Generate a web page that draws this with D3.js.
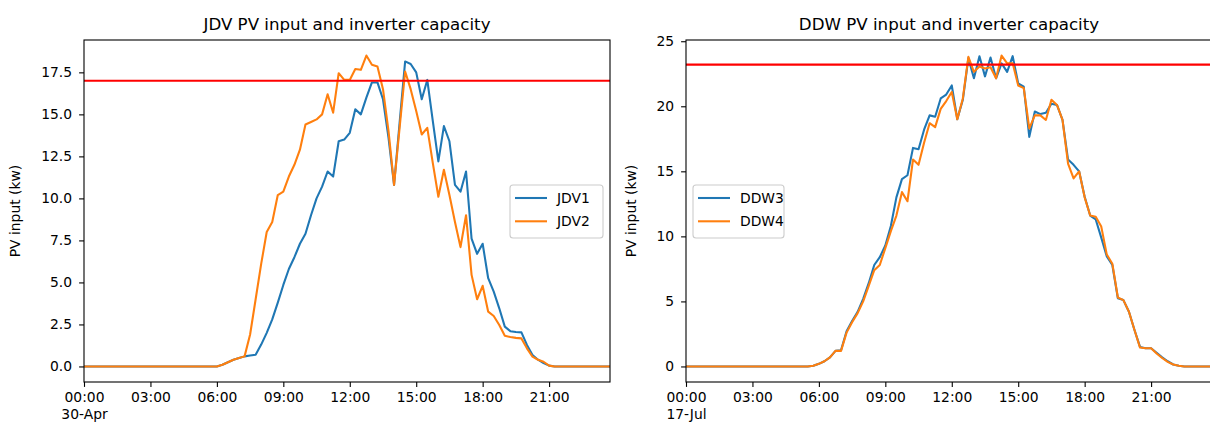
<!DOCTYPE html>
<html><head><meta charset="utf-8">
<script src="https://cdn.jsdelivr.net/npm/d3@7"></script>
<style>
body{margin:0;background:#fff;}
svg{display:block;}
text{font-family:"DejaVu Sans",sans-serif;fill:#000;}
</style>
</head><body>
<svg id="chart" width="1210" height="428"></svg>
<script>
// ---- data: 15-minute samples, 00:00 .. 23:45 (96 points) ----
const jdv1 = [0,0,0,0,0,0,0,0,0,0,0,0,0,0,0,0,0,0,0,0,0,0,0,0,0,
  0.1,0.25,0.4,0.5,0.6,0.65,0.7,1.3,2.0,2.8,3.8,4.85,5.8,6.5,7.3,7.9,9.0,10.0,10.7,11.6,11.3,13.4,13.5,13.9,15.3,15.0,16.0,16.9,16.9,15.9,13.6,10.8,14.5,18.15,18.0,17.5,15.9,17.05,14.6,12.2,14.3,13.4,10.8,10.4,11.6,7.6,6.7,7.3,5.25,4.45,3.46,2.37,2.1,2.05,2.03,1.28,0.68,0.4,0.2,0.05,
  0,0,0,0,0,0,0,0,0,0,0];
const jdv2 = [0,0,0,0,0,0,0,0,0,0,0,0,0,0,0,0,0,0,0,0,0,0,0,0,0,
  0.1,0.25,0.4,0.5,0.6,1.9,4.0,6.1,8.0,8.6,10.2,10.4,11.3,12.0,12.9,14.4,14.55,14.7,15.0,16.2,15.1,17.45,17.05,17.05,17.7,17.65,18.5,17.95,17.85,16.5,14.0,10.8,14.2,17.55,16.5,15.2,13.8,14.2,12.1,10.1,11.7,10.2,8.6,7.1,9.0,5.45,4.0,4.8,3.26,3.0,2.47,1.83,1.75,1.7,1.67,1.08,0.58,0.4,0.28,0.05,
  0,0,0,0,0,0,0,0,0,0,0];
const ddw3 = [0,0,0,0,0,0,0,0,0,0,0,0,0,0,0,0,0,0,0,0,0,0,0,
  0.05,0.2,0.4,0.7,1.2,1.25,2.7,3.5,4.2,5.2,6.4,7.8,8.4,9.3,10.8,13.0,14.4,14.7,16.8,16.7,18.2,19.3,19.2,20.6,20.9,21.6,19.0,20.5,23.7,22.15,23.85,22.3,23.75,22.15,23.3,22.65,23.85,21.75,21.5,17.65,19.6,19.4,19.5,20.2,20.1,18.95,15.9,15.5,15.0,13.05,11.6,11.3,9.9,8.45,7.8,5.24,5.1,4.2,2.8,1.5,1.4,1.4,1.05,0.7,0.4,0.15,0.05,
  0,0,0,0,0,0];
const ddw4 = [0,0,0,0,0,0,0,0,0,0,0,0,0,0,0,0,0,0,0,0,0,0,0,
  0.05,0.2,0.4,0.7,1.2,1.2,2.6,3.4,4.1,5.0,6.2,7.4,7.8,9.1,10.4,11.6,13.4,12.7,15.9,15.5,17.2,18.7,18.4,19.8,20.4,21.1,19.0,20.6,23.8,22.65,23.05,22.9,23.0,22.15,23.9,23.3,23.3,21.6,21.4,18.3,19.3,19.3,18.95,20.5,20.1,18.95,15.6,14.45,15.0,13.0,11.6,11.5,10.75,8.6,7.9,5.3,5.1,4.2,2.8,1.45,1.4,1.4,1.0,0.65,0.35,0.15,0.05,
  0,0,0,0,0,0];
const jdvCapacity = 17.0;
const ddwCapacity = 23.2;
const leftYTicks = [0,2.5,5,7.5,10,12.5,15,17.5];
const rightYTicks = [0,5,10,15,20,25];
const leftDay = [2019,3,30];   // 30-Apr
const rightDay = [2019,6,17];  // 17-Jul
const leftTitle = "JDV PV input and inverter capacity";
const rightTitle = "DDW PV input and inverter capacity";
const leftNames = ["JDV1","JDV2"];
const rightNames = ["DDW3","DDW4"];
const yLabel = "PV input (kw)";

const colors = ["#1f77b4","#ff7f0e"];
const svg = d3.select("#chart");
const fmtHM = d3.timeFormat("%H:%M");
const fmtDay = d3.timeFormat("%d-%b");

function panel(opt){
  const {x0,x1,y0,y1,day,series,names,cap,yTicks,yFmt,title,legendX,idx,labelOff} = opt;
  const start = new Date(day[0],day[1],day[2],0,0);
  const times = d3.timeMinute.every(15).range(start, d3.timeDay.offset(start,1));
  const x = d3.scaleTime().domain([times[0], times[times.length-1]]).range([x0,x1]);
  const all = series.flat();
  const lo = d3.min(all), hi = d3.max(all), pad = (hi-lo)*0.05;
  const y = d3.scaleLinear().domain([lo-pad, hi+pad]).range([y1,y0]);
  const g = svg.append("g");
  const cid = "clip"+idx;
  g.append("clipPath").attr("id",cid).append("rect")
    .attr("x",x0).attr("y",y0).attr("width",x1-x0).attr("height",y1-y0);
  const plot = g.append("g").attr("clip-path",`url(#${cid})`);
  const line = d3.line().x((d,i)=>x(times[i])).y(d=>y(d));
  series.forEach((s,k)=>{
    plot.append("path").datum(s).attr("d",line).attr("fill","none")
      .attr("stroke",colors[k]).attr("stroke-width",2.08).attr("stroke-linejoin","round");
  });
  plot.append("line").attr("x1",x0).attr("x2",x1).attr("y1",y(cap)).attr("y2",y(cap))
    .attr("stroke","#ff0000").attr("stroke-width",2.08);

  // axes
  const ticksX = d3.timeHour.every(3).range(times[0], d3.timeDay.offset(times[0],1));
  const xa = g.append("g").attr("transform",`translate(0,${y1})`)
    .call(d3.axisBottom(x).tickValues(ticksX).tickSize(4.9).tickPadding(5.5).tickSizeOuter(0).tickFormat(fmtHM));
  xa.selectAll("text").attr("font-size","13.89px").attr("dy","0.71em");
  xa.selectAll(".tick").filter((d,i)=>i===0).select("text").each(function(d){
    const t = d3.select(this);
    t.append("tspan").attr("x",0).attr("dy","1.2em").text(fmtDay(d));
  });
  const ya = g.append("g").attr("transform",`translate(${x0},0)`)
    .call(d3.axisLeft(y).tickValues(yTicks).tickSize(4.9).tickPadding(7).tickSizeOuter(0).tickFormat(yFmt));
  ya.selectAll("text").attr("font-size","13.89px");
  [xa,ya].forEach(a=>{a.select(".domain").remove(); a.selectAll("line").attr("stroke","#000").attr("stroke-width",1.1);});
  g.append("rect").attr("x",x0).attr("y",y0).attr("width",x1-x0).attr("height",y1-y0)
    .attr("fill","none").attr("stroke","#000").attr("stroke-width",1.1);

  g.append("text").attr("x",(x0+x1)/2).attr("y",y0-10).attr("text-anchor","middle")
    .attr("font-size","16.67px").text(title);
  g.append("text").attr("transform",`translate(${x0-labelOff},${(y0+y1)/2}) rotate(-90)`)
    .attr("text-anchor","middle").attr("font-size","13.89px").text(yLabel);

  // legend
  const ly = 185, lw = opt.legendW, lh = 53;
  const lg = g.append("g");
  lg.append("rect").attr("x",legendX).attr("y",ly).attr("width",lw).attr("height",lh)
    .attr("rx",3).attr("fill","#fff").attr("fill-opacity",0.8).attr("stroke","#cccccc").attr("stroke-width",1.1);
  names.forEach((n,k)=>{
    const yy = ly + 13 + k*23.3;
    lg.append("line").attr("x1",legendX+5).attr("x2",legendX+37).attr("y1",yy).attr("y2",yy)
      .attr("stroke",colors[k]).attr("stroke-width",2.08);
    lg.append("text").attr("x",legendX+47).attr("y",yy+5).attr("font-size","13.89px").text(n);
  });
}

panel({x0:84,x1:610,y0:40,y1:382,day:leftDay,series:[jdv1,jdv2],names:leftNames,cap:jdvCapacity,
  yTicks:leftYTicks,yFmt:d3.format(".1f"),title:leftTitle,legendX:510,legendW:93,idx:0,labelOff:64});
panel({x0:686,x1:1212,y0:40,y1:382,day:rightDay,series:[ddw3,ddw4],names:rightNames,cap:ddwCapacity,
  yTicks:rightYTicks,yFmt:d3.format("d"),title:rightTitle,legendX:693,legendW:91,idx:1,labelOff:50});
</script>
</body></html>
